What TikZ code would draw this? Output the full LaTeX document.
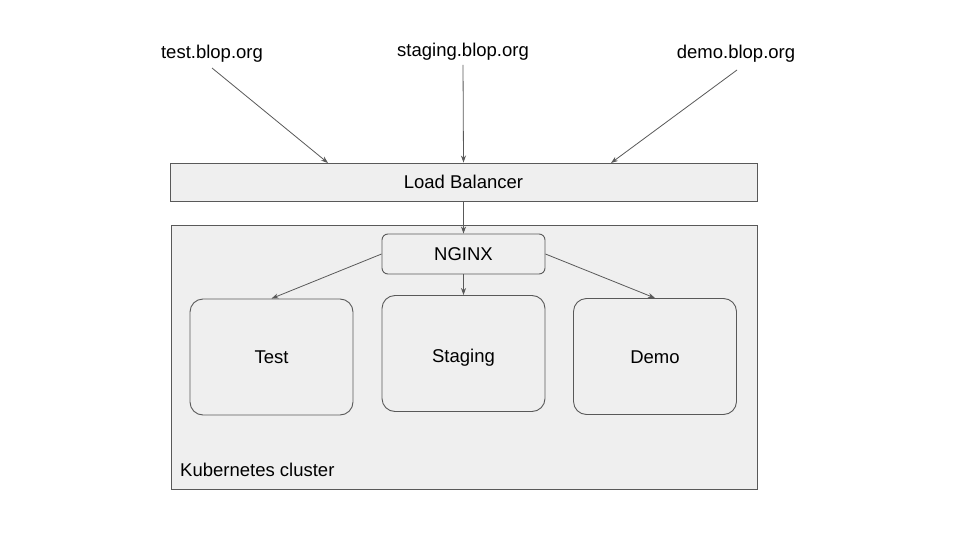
\documentclass[tikz,border=0pt]{standalone}
\usepackage{fontspec}
\setmainfont{Liberation Sans}
\usetikzlibrary{arrows.meta}
\definecolor{boxfill}{HTML}{EFEFEF}
\definecolor{linegray}{HTML}{595959}
\begin{document}
\begin{tikzpicture}[x=1pt,y=-1pt,
  every node/.style={font=\fontsize{18.5}{22}\selectfont, text=black},
  plainbox/.style={draw=linegray, fill=boxfill, line width=0.9pt, inner sep=0pt, text height=13pt, text depth=0pt},
  envbox/.style={plainbox, rounded corners=13pt, minimum width=163pt, minimum height=116pt},
  conn/.style={draw=linegray, line width=0.8pt, -{Stealth[length=7pt,width=5pt]}},
  lbl/.style={inner sep=2pt}]
\useasboundingbox (0,0) rectangle (960,540);
\fill[white] (0,0) rectangle (960,540);

% cluster
\node[plainbox, minimum width=586pt, minimum height=264pt] (cluster) at (464,357) {};
\node[lbl, anchor=west] (k8s) at (178,470) {Kubernetes cluster};

% load balancer
\node[plainbox, minimum width=587pt, minimum height=38pt] (lb) at (463.5,182) {Load Balancer};

% domain labels
\node[lbl] (dtest) at (212,54) {test.blop.org};
\node[lbl] (dstaging) at (463,52) {staging.blop.org};
\node[lbl] (ddemo) at (736,54) {demo.blop.org};

% nginx and environments
\node[plainbox, rounded corners=6pt, minimum width=163pt, minimum height=40pt] (nginx) at (463.5,254) {NGINX};
\node[envbox] (test) at (271.5,357) {Test};
\node[envbox] (staging) at (463.5,353.5) {\raisebox{-2pt}{Staging}};
\node[envbox] (demo) at (655,356.5) {Demo};

% free ends on top of load balancer
\coordinate (lb1) at (328,163);
\coordinate (lb3) at (611,163);

\draw[conn] (212,68) coordinate (s1) -- (lb1);
\draw[conn, shorten <=2pt] (dstaging.south) -- (lb.north);
\draw[conn] (737,70) coordinate (s3) -- (lb3);
\draw[conn] (lb.south) -- (nginx.north);
\draw[conn] (nginx.west) -- (test.north);
\draw[conn] (nginx.south) -- (staging.north);
\draw[conn] (nginx.east) -- (demo.north);
\end{tikzpicture}
\end{document}
